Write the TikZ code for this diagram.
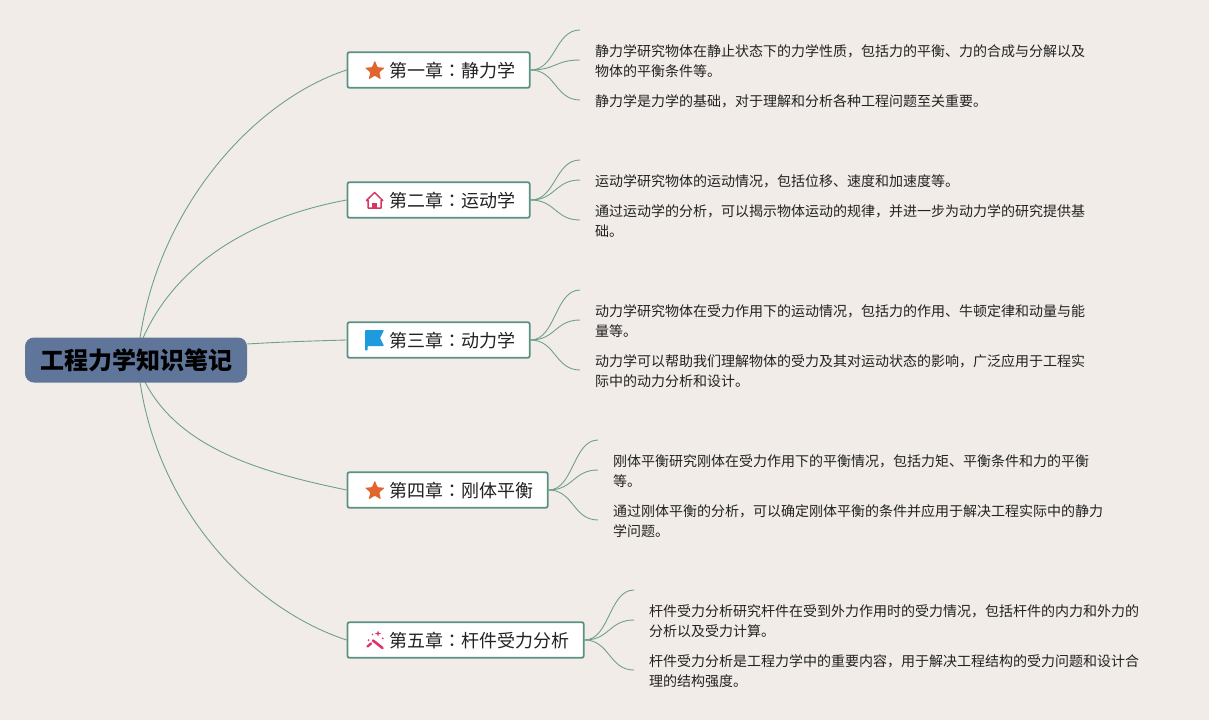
\documentclass[tikz,border=0pt]{standalone}
\usepackage{fontspec}
\setmainfont{Noto Sans CJK SC}
\newfontfamily\cjktc{Noto Sans CJK TC}
\usetikzlibrary{shapes.geometric,backgrounds}
\definecolor{bgc}{HTML}{F1ECE7}
\definecolor{rootc}{HTML}{5F7599}
\definecolor{boxc}{HTML}{5B9184}
\definecolor{linec}{HTML}{6FA08F}
\definecolor{starc}{HTML}{E0652F}
\definecolor{housec}{HTML}{D6375F}
\definecolor{flagc}{HTML}{1D9BDC}
\definecolor{wandc}{HTML}{E0336B}
\definecolor{inkc}{HTML}{222222}
\newcommand{\subtext}[2]{\hspace*{27pt}\raisebox{-7.8pt}[0pt][0pt]{#1{\cjktc：}#2}}
\tikzset{
  x=1pt,y=-1pt,
  rootbox/.style={draw=none,fill=rootc,rounded corners=9pt,minimum width=222pt,minimum height=45pt,inner sep=0pt,font=\fontsize{24}{28}\selectfont\bfseries,text=black},
  subbox/.style={draw=boxc,line width=1.8pt,fill=white,rounded corners=2pt,minimum height=35.6pt,inner xsep=14.6pt,inner ysep=0pt,font=\fontsize{18}{22}\selectfont,text=inkc,anchor=west},
  leaf/.style={anchor=west,yshift=-1.5pt,inner xsep=15pt,inner ysep=0pt,align=left,font=\fontsize{14}{20}\selectfont,text=inkc},
  freeend/.style={yshift=-1.5pt},
  rootlink/.style={draw=linec,line width=0.9pt},
  leaflink/.style={draw=linec,line width=0.9pt},
  staricon/.style={star,star points=5,star point ratio=2.25,fill=starc,inner sep=0pt,minimum size=21pt,rounded corners=1pt},
}
\begin{document}
\begin{tikzpicture}
\useasboundingbox (0,0) rectangle (1209,720);
\begin{scope}[on background layer]
\fill[bgc] (0,0) rectangle (1209,720);
\end{scope}
% root
\node[rootbox] (root) at (136,360) {工程力学知识笔记};
\coordinate (rootT) at (140,338);
\coordinate (rootT2) at (143,338);
\coordinate (rootB) at (140,382);
\coordinate (rootB2) at (145,382);
\coordinate (rootE) at (247,344);
% chapter boxes
\node[subbox] (c1) at (346.6,70) {\subtext{第一章}{静力学}};
\node[subbox] (c2) at (346.6,200) {\subtext{第二章}{运动学}};
\node[subbox] (c3) at (346.6,340) {\subtext{第三章}{动力学}};
\node[subbox] (c4) at (346.6,490) {\subtext{第四章}{刚体平衡}};
\node[subbox] (c5) at (346.6,640) {\subtext{第五章}{杆件受力分析}};
% leaves
\coordinate[freeend] (f1) at (580,30);
\node[leaf] (a1) at (580,60) {静力学研究物体在静止状态下的力学性质，包括力的平衡、力的合成与分解以及\\物体的平衡条件等。};
\node[leaf] (a2) at (580,100) {静力学是力学的基础，对于理解和分析各种工程问题至关重要。};
\coordinate[freeend] (f2) at (580,160);
\node[leaf] (b1) at (580,180) {运动学研究物体的运动情况，包括位移、速度和加速度等。};
\node[leaf] (b2) at (580,220) {通过运动学的分析，可以揭示物体运动的规律，并进一步为动力学的研究提供基\\础。};
\coordinate[freeend] (f3) at (580,290);
\node[leaf] (d1) at (580,320) {动力学研究物体在受力作用下的运动情况，包括力的作用、牛顿定律和动量与能\\量等。};
\node[leaf] (d2) at (580,370) {动力学可以帮助我们理解物体的受力及其对运动状态的影响，广泛应用于工程实\\际中的动力分析和设计。};
\coordinate[freeend] (f4) at (598,440);
\node[leaf] (e1) at (598,470) {刚体平衡研究刚体在受力作用下的平衡情况，包括力矩、平衡条件和力的平衡\\等。};
\node[leaf] (e2) at (598,520) {通过刚体平衡的分析，可以确定刚体平衡的条件并应用于解决工程实际中的静力\\学问题。};
\coordinate[freeend] (f5) at (634,590);
\node[leaf] (g1) at (634,620) {杆件受力分析研究杆件在受到外力作用时的受力情况，包括杆件的内力和外力的\\分析以及受力计算。};
\node[leaf] (g2) at (634,670) {杆件受力分析是工程力学中的重要内容，用于解决工程结构的受力问题和设计合\\理的结构强度。};
% connectors
\begin{scope}[on background layer]
\draw[rootlink] (rootT) .. controls (160,205) and (255,100) .. (c1.west);
\draw[rootlink] (rootT2) .. controls (180,255) and (265,215) .. (c2.west);
\draw[rootlink] (rootE) .. controls (280,342) and (310,341) .. (c3.west);
\draw[rootlink] (rootB2) .. controls (180,450) and (265,473) .. (c4.west);
\draw[rootlink] (rootB) .. controls (160,515) and (255,610) .. (c5.west);
\foreach \s/\t in {c1/f1,c1/a1,c1/a2,c2/f2,c2/b1,c2/b2,c3/f3,c3/d1,c3/d2,c4/f4,c4/e1,c4/e2,c5/f5,c5/g1,c5/g2}{
  \draw[leaflink] (\s.east) .. controls ([xshift=25pt]\s.east) and ([xshift=-25pt,yshift=1.5pt]\t.west) .. ([yshift=1.5pt]\t.west);
}
\end{scope}
% icons
\node[staricon] (i1) at (374.8,71) {};
\node[staricon] (i4) at (374.8,491) {};
\draw[housec,line width=1.5pt,line join=round] (366.5,200.5) -- (374.6,192.5) -- (382.7,200.5) -- (381,200.5) -- (381,208) -- (368.2,208) -- (368.2,200.5) -- cycle;
\fill[housec] (372.2,203) rectangle (376.8,208.5);
\fill[flagc,rounded corners=0.8pt] (365,330) -- (384,330) -- (380,338) -- (384,346) -- (367.5,346) -- (367.5,350.5) -- (365,350.5) -- cycle;
\draw[wandc,line width=2.6pt,line cap=round] (373,640.5) -- (382.5,648);
\draw[wandc,line width=2.4pt,line cap=round] (367.5,646.5) -- (371,643.5);
\fill[wandc] (378,630.5) -- (378.8,632.7) -- (381,633.5) -- (378.8,634.3) -- (378,636.5) -- (377.2,634.3) -- (375,633.5) -- (377.2,632.7) -- cycle;
\fill[wandc] (382.8,638.3) circle (1pt);
\fill[wandc] (368.5,640) circle (1pt);
\fill[wandc] (372.5,634.5) circle (0.9pt);
\end{tikzpicture}
\end{document}
